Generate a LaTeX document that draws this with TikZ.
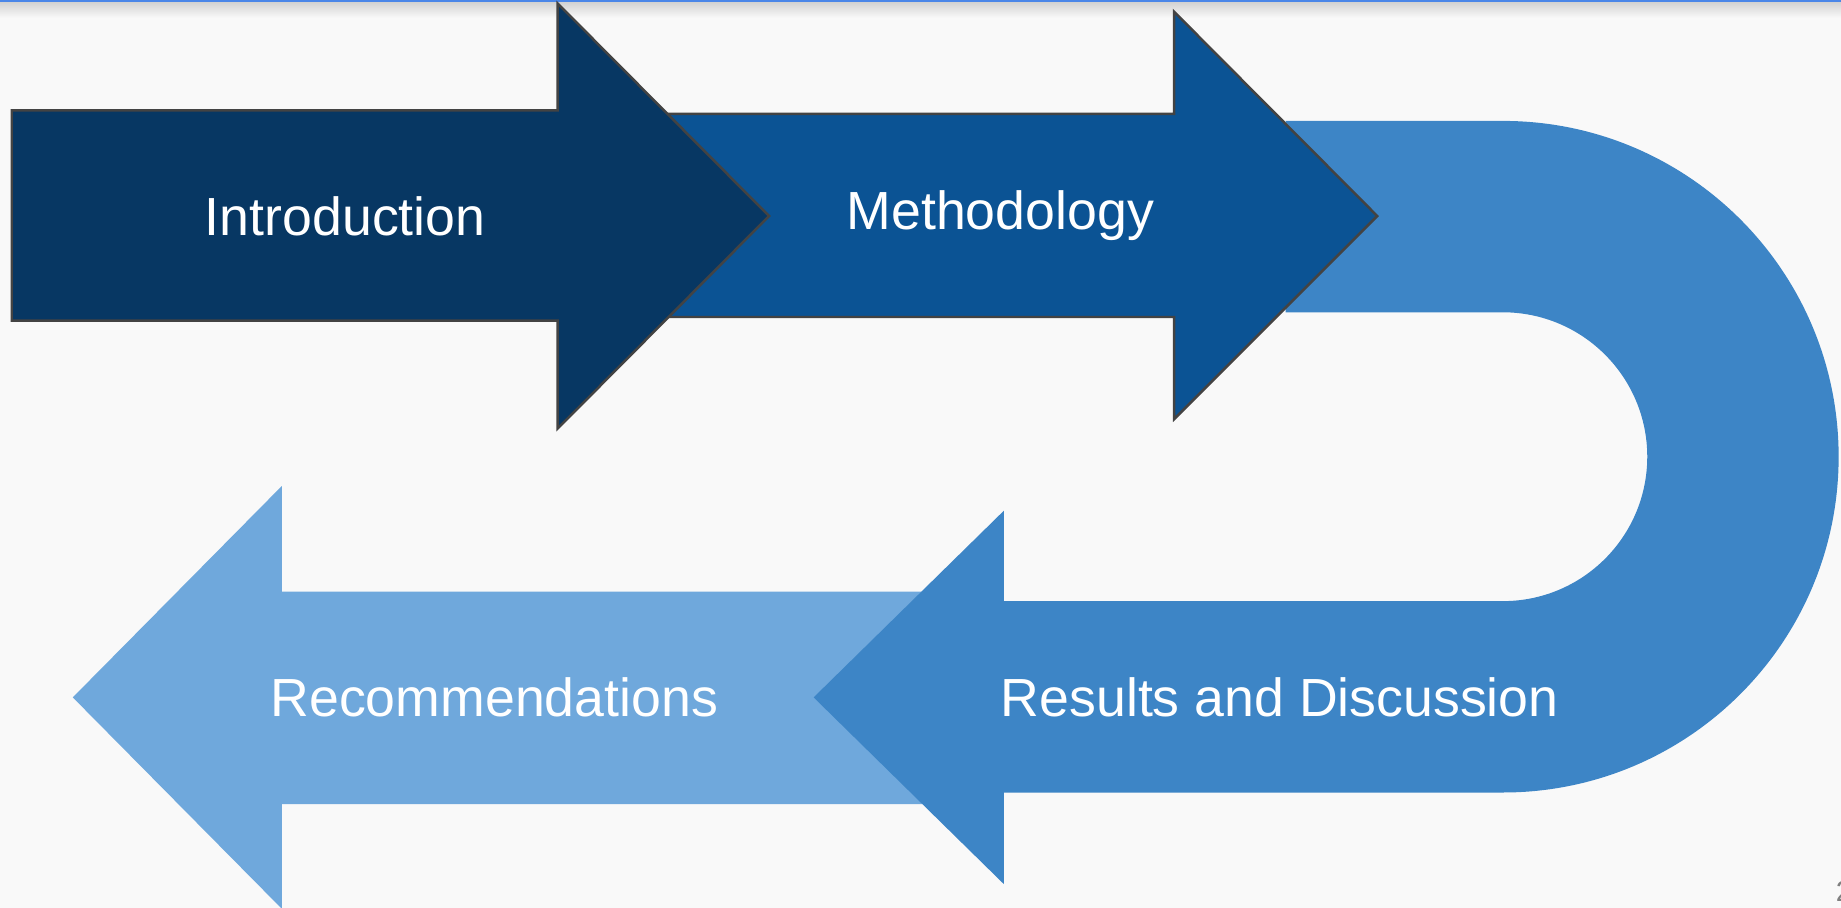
\documentclass[tikz,border=0pt]{standalone}
\usepackage{fontspec}
\setmainfont{Liberation Sans}
\definecolor{bgGray}{HTML}{F9F9F9}
\definecolor{blueDark}{HTML}{073763}
\definecolor{blueMid}{HTML}{0B5394}
\definecolor{blueU}{HTML}{3D85C6}
\definecolor{blueLight}{HTML}{6FA8DC}
\definecolor{edgeGray}{HTML}{434343}
\definecolor{topLine}{HTML}{4A86E8}
\begin{document}
\begin{tikzpicture}
        [x=0.01cm, y=0.01cm,
        arrowShape/.style={line width=0.6pt, draw=edgeGray},
        label/.style={text=white, font=\fontsize{13}{16}\selectfont, inner sep=0pt}]
        \useasboundingbox[fill=bgGray] (0,0) rectangle (1568,773);
        \shade[top color=gray!35, bottom color=bgGray] (0,758) rectangle (1568,771);
        \fill[topLine] (0,771) rectangle (1568,773);
        
        % shapes, back to front
        \fill[blueLight] (790,269) -- (240,269) -- (240,359) -- (62,179) -- (240,-1) -- (240,88) -- (790,88) -- cycle;
        \fill[blueU] (1095,670) -- (1280,670) arc[start angle=90, end angle=-90, radius=286]
            -- (855,98) -- (855,20) -- (693,179) -- (855,338) -- (855,261) -- (1280,261)
            arc[start angle=-90, end angle=90, radius=123] -- (1095,507) -- cycle;
        \filldraw[arrowShape, fill=blueMid] (570,676) -- (1000,676) -- (1000,763) -- (1173,589) -- (1000,416) -- (1000,503) -- (570,503) -- cycle;
        \filldraw[arrowShape, fill=blueDark] (10,679) -- (475,679) -- (475,770) -- (655,589) -- (475,408) -- (475,500) -- (10,500) -- cycle;
        
        \node[label] (intro) at (294,589) {Introduction};
        \node[label] (method) at (852,589) {Methodology};
        \node[label] (results) at (1090,179) {Results and Discussion};
        \node[label] (recomm) at (421,179) {Recommendations};
        \node[text=gray, font=\fontsize{7}{8}\selectfont, inner sep=0pt, anchor=base west] (pageNum) at (1563,5) {2};
    \end{tikzpicture}
\end{document}
